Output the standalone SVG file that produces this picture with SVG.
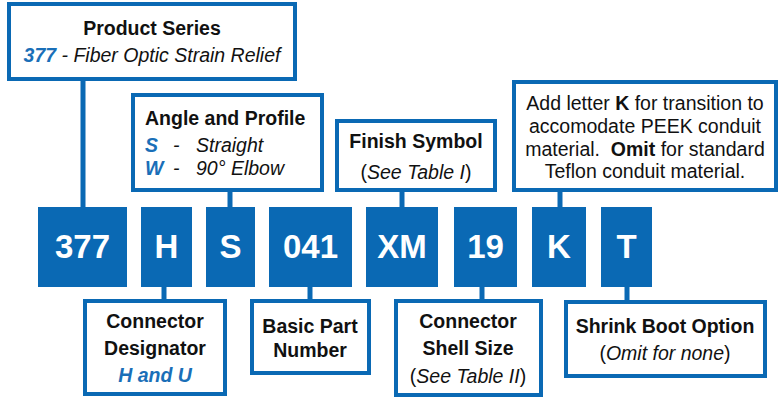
<svg xmlns="http://www.w3.org/2000/svg" width="780" height="398" viewBox="0 0 780 398">
<style>
.box{fill:#fff;stroke:#0a69b4;stroke-width:4}
.code{fill:#0a69b4}
.ct{font-family:"Liberation Sans",Arial,sans-serif;font-weight:bold;font-size:33px;fill:#fff;text-anchor:middle}
.t{font-family:"Liberation Sans",Arial,sans-serif;font-size:19.5px;fill:#111}
.b{font-weight:bold}
.i{font-style:italic}
.bl{fill:#1a6fb8}
.c{text-anchor:middle}
.conn{stroke:#0a69b4;stroke-width:5;fill:none}
</style>
<g id="connectors">
<line class="conn" x1="83" y1="79" x2="83" y2="208"/>
<line class="conn" x1="230" y1="190" x2="230" y2="208"/>
<line class="conn" x1="402" y1="190" x2="402" y2="208"/>
<line class="conn" x1="560" y1="190" x2="560" y2="208"/>
<line class="conn" x1="164" y1="286" x2="164" y2="301"/>
<line class="conn" x1="310" y1="286" x2="310" y2="301"/>
<line class="conn" x1="482" y1="286" x2="482" y2="301"/>
<line class="conn" x1="627" y1="286" x2="627" y2="302"/>
</g>
<g id="product-series">
<rect class="box" x="9" y="4" width="286" height="75"/>
<text class="t b c" x="152" y="35">Product Series</text>
<text class="t i c" x="152" y="62"><tspan class="b bl">377</tspan> - Fiber Optic Strain Relief</text>
</g>
<g id="angle-profile">
<rect class="box" x="133" y="95" width="189" height="95"/>
<text class="t b" x="145" y="125">Angle and Profile</text>
<text class="t i b bl" x="145" y="152">S</text><text class="t i" x="173" y="152">-</text><text class="t i" x="196" y="152">Straight</text>
<text class="t i b bl" x="145" y="175">W</text><text class="t i" x="173" y="175">-</text><text class="t i" x="196" y="175">90° Elbow</text>
</g>
<g id="finish-symbol">
<rect class="box" x="337" y="121" width="158" height="69"/>
<text class="t b c" x="416" y="148">Finish Symbol</text>
<text class="t c" x="416" y="179">(<tspan class="i">See Table I</tspan>)</text>
</g>
<g id="conduit-note">
<rect class="box" x="514" y="82" width="262" height="108"/>
<text class="t c" x="645" y="110">Add letter <tspan class="b">K</tspan> for transition to</text>
<text class="t c" x="645" y="133">accomodate PEEK conduit</text>
<text class="t c" x="645" y="156">material.&#160; <tspan class="b">Omit</tspan> for standard</text>
<text class="t c" x="645" y="178">Teflon conduit material.</text>
</g>
<g id="code-377"><rect class="code" x="38" y="207" width="89" height="80"/><text class="ct" x="82.5" y="258">377</text></g>
<g id="code-H"><rect class="code" x="141" y="207" width="51" height="80"/><text class="ct" x="166.5" y="258">H</text></g>
<g id="code-S"><rect class="code" x="206" y="207" width="49" height="80"/><text class="ct" x="230.5" y="258">S</text></g>
<g id="code-041"><rect class="code" x="269" y="207" width="83" height="80"/><text class="ct" x="310.5" y="258">041</text></g>
<g id="code-XM"><rect class="code" x="366" y="207" width="72" height="80"/><text class="ct" x="402" y="258">XM</text></g>
<g id="code-19"><rect class="code" x="454" y="207" width="63" height="80"/><text class="ct" x="485.5" y="258">19</text></g>
<g id="code-K"><rect class="code" x="532" y="207" width="54" height="80"/><text class="ct" x="559" y="258">K</text></g>
<g id="code-T"><rect class="code" x="601" y="207" width="51" height="80"/><text class="ct" x="626.5" y="258">T</text></g>
<g id="connector-designator">
<rect class="box" x="85" y="301" width="140" height="93"/>
<text class="t b c" x="155" y="328">Connector</text>
<text class="t b c" x="155" y="355">Designator</text>
<text class="t b i bl c" x="155" y="382">H and U</text>
</g>
<g id="basic-part-number">
<rect class="box" x="252" y="301" width="117" height="72"/>
<text class="t b c" x="310" y="333">Basic Part</text>
<text class="t b c" x="310" y="357">Number</text>
</g>
<g id="shell-size">
<rect class="box" x="396" y="301" width="145" height="94"/>
<text class="t b c" x="468" y="328">Connector</text>
<text class="t b c" x="468" y="355">Shell Size</text>
<text class="t c" x="468" y="383">(<tspan class="i">See Table II</tspan>)</text>
</g>
<g id="shrink-boot">
<rect class="box" x="566" y="302" width="199" height="74"/>
<text class="t b c" x="665" y="333">Shrink Boot Option</text>
<text class="t c" x="665" y="360">(<tspan class="i">Omit for none</tspan>)</text>
</g>
</svg>
